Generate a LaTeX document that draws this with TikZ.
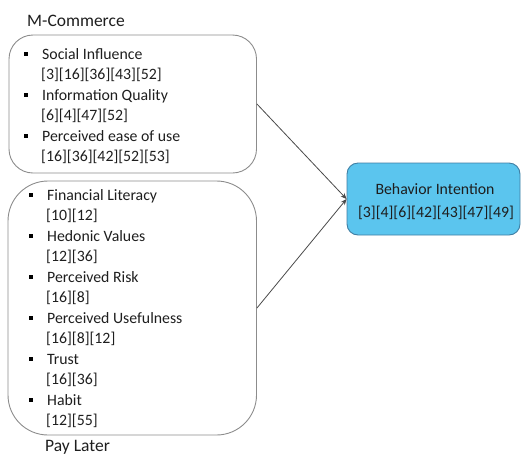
\documentclass[tikz,border=0pt]{standalone}
\usepackage{fontspec}
\setmainfont{Carlito}
\usetikzlibrary{arrows.meta}

\definecolor{boxline}{HTML}{8C8C8C}
\definecolor{connline}{HTML}{4A4A4A}
\definecolor{bifill}{HTML}{5BC5EE}
\definecolor{biline}{HTML}{3F7EA3}
\definecolor{ink}{HTML}{1E1E1E}

\tikzset{
  groupbox/.style={draw=boxline, line width=0.9pt, inner sep=0pt},
  item/.style={anchor=base west, inner sep=0pt, text=ink,
               font=\fontsize{15.8}{19}\selectfont},
  heading/.style={anchor=base west, inner sep=0pt, text=ink,
                  font=\fontsize{17.5}{21}\selectfont},
  bulletmark/.style={fill=black, inner sep=0pt, minimum size=4pt, draw=none},
  conn/.style={draw=connline, line width=0.8pt,
               -{Stealth[length=6pt,width=5pt]}},
}

\begin{document}
\begin{tikzpicture}[x=1pt,y=-1pt]
\useasboundingbox (0,0) rectangle (521,456);

% group headings
\node[heading] (hmc) at (27,26.5) {M-Commerce};
\node[heading] (hpl) at (45,451.5) {Pay Later};

% group frames
\node[groupbox, rounded corners=24pt, minimum width=247.5pt, minimum height=138pt]
  (mc) at (132.75,104) {};
\node[groupbox, rounded corners=40pt, minimum width=248.5pt, minimum height=254pt]
  (pl) at (132.25,308) {};

% target construct
\node[draw=biline, fill=bifill, line width=0.9pt, rounded corners=11pt,
      minimum width=173pt, minimum height=72pt, inner sep=0pt] (bi) at (433.5,199) {};
\node[item, anchor=base] (bi1) at (435,194) {Behavior Intention};
\node[item, anchor=base] (bi2) at (436,217) {[3][4][6][42][43][47][49]};

% M-Commerce factors
\node[bulletmark] (mb1) at (25.5,54) {};
\node[item] (m1) at (42,59) {Social Influence};
\node[item] (m1r) at (41,79.5) {[3][16][36][43][52]};
\node[bulletmark] (mb2) at (25.5,95) {};
\node[item] (m2) at (42,100) {Information Quality};
\node[item] (m2r) at (41,120.5) {[6][4][47][52]};
\node[bulletmark] (mb3) at (25.5,136) {};
\node[item] (m3) at (42,141) {Perceived ease of use};
\node[item] (m3r) at (41,161.5) {[16][36][42][52][53]};

% Pay Later factors
\node[bulletmark] (pb1) at (30.5,195) {};
\node[item] (p1) at (47,200) {Financial Literacy};
\node[item] (p1r) at (46,220.5) {[10][12]};
\node[bulletmark] (pb2) at (30.5,236) {};
\node[item] (p2) at (47,241) {Hedonic Values};
\node[item] (p2r) at (46,261.5) {[12][36]};
\node[bulletmark] (pb3) at (30.5,277) {};
\node[item] (p3) at (47,282) {Perceived Risk};
\node[item] (p3r) at (46,302.5) {[16][8]};
\node[bulletmark] (pb4) at (30.5,318) {};
\node[item] (p4) at (47,323) {Perceived Usefulness};
\node[item] (p4r) at (46,343.5) {[16][8][12]};
\node[bulletmark] (pb5) at (30.5,359) {};
\node[item] (p5) at (47,364) {Trust};
\node[item] (p5r) at (46,384.5) {[16][36]};
\node[bulletmark] (pb6) at (30.5,400) {};
\node[item] (p6) at (47,405) {Habit};
\node[item] (p6r) at (46,425.5) {[12][55]};

% influence paths
\draw[conn] (mc.east) -- (bi.west);
\draw[conn] (pl.east) -- (bi.west);
\end{tikzpicture}
\end{document}
